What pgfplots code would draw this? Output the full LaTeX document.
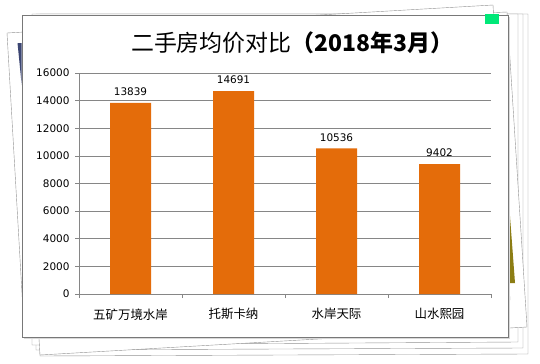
\documentclass[border=0pt]{standalone}
\usepackage{pgfplots}
\pgfplotsset{compat=1.18}
\usepackage{fontspec}
\setmainfont{DejaVu Sans}
\newfontfamily\cjk{Noto Sans CJK SC}
\definecolor{barorange}{RGB}{228,108,10}
\definecolor{gridgray}{RGB}{134,134,134}
\definecolor{framegray}{RGB}{120,120,120}
\definecolor{navy}{RGB}{60,70,115}
\definecolor{olive}{RGB}{140,125,20}
\definecolor{tabgreen}{RGB}{0,232,120}
\begin{document}
\begin{tikzpicture}[x=1bp,y=1bp]
\useasboundingbox (0,0) rectangle (540,363);
% back stacked sheets (tikz y = 363 - pixel y)
\draw[framegray!80,fill=white] (40,7) -- (528,9) -- (528,349) -- (40,349) -- cycle;
\draw[framegray!80,fill=white] (36,13) -- (523,15) -- (523,349) -- (36,349) -- cycle;
\draw[framegray!80,fill=white] (32,18) -- (518,21) -- (518,349) -- (32,349) -- cycle;
% rotated sheet (clockwise)
\draw[framegray!80,fill=white] (40,8) -- (527,36) -- (507,351) -- (20,330) -- cycle;
\fill[olive] (508,173) -- (508,80) -- (515,80) -- cycle;
% rotated sheet (counter-clockwise)
\draw[framegray!80,fill=white] (7,330) -- (493,358) -- (510,63) -- (24,35) -- cycle;
\fill[navy] (17.5,320) -- (21.7,320) -- (21.7,278) -- cycle;
% main frame
\fill[black!15] (23.5,24) rectangle (510,346);
\draw[framegray,fill=white] (21.7,26) rectangle (508,348);
\fill[tabgreen] (485,339) rectangle (499,349);
% title
\node[anchor=center,inner sep=0pt] at (292,320) {\cjk\fontsize{23}{24}\selectfont 二手房均价对比\bfseries （2018年3月）};
\begin{axis}[
  at={(79bp,69bp)}, anchor=south west,
  scale only axis, width=412bp, height=221bp,
  xmin=-0.5, xmax=3.5, ymin=0, ymax=16000,
  ytick={0,2000,...,16000},
  xtick={-0.5,0.5,1.5,2.5,3.5}, xticklabels={},
  extra x ticks={0,1,2,3},
  extra x tick labels={{\cjk 五矿万境水岸},{\cjk 托斯卡纳},{\cjk 水岸天际},{\cjk 山水熙园}},
  extra x tick style={major tick length=0pt, xticklabel style={yshift=-11bp}},
  axis x line*=bottom, axis y line*=left,
  axis line style={gridgray,-},
  ymajorgrids, grid style={gridgray, line width=0.6pt},
  tick style={gridgray, line width=0.6pt},
  tick align=outside, major tick length=4bp,
  ticklabel style={font=\fontsize{10.5}{11}\selectfont, text=black},
  yticklabel style={xshift=-2bp},
  xticklabel style={font=\fontsize{12.5}{13}\selectfont},
  /pgf/number format/assume math mode=true,
  /pgf/number format/1000 sep={},
  scaled y ticks=false,
  ybar, bar width=41bp,
  nodes near coords,
  nodes near coords style={font=\fontsize{10.5}{11}\selectfont, text=black, yshift=3.5bp},
  every node near coord/.append style={/pgf/number format/assume math mode=true},
]
\addplot[fill=barorange, draw=none] coordinates {(0,13839) (1,14691) (2,10536) (3,9402)};
\end{axis}
\end{tikzpicture}
\end{document}
